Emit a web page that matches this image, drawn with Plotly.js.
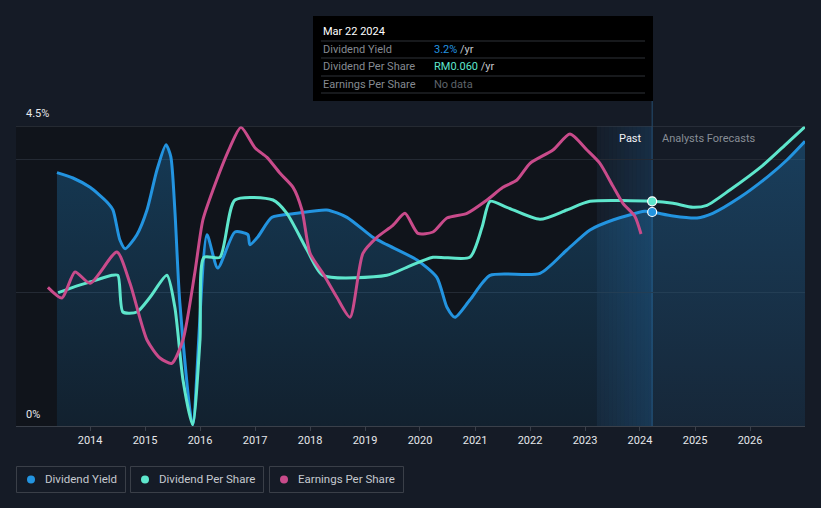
<!DOCTYPE html>
<html>
<head>
<meta charset="utf-8">
<script src="https://cdn.plot.ly/plotly-3.0.1.min.js"></script>
<style>
html,body{margin:0;padding:0;background:#151b26;}
#chart{width:821px;height:508px;}
</style>
</head>
<body>
<div id="chart"></div>
<script>
// ---- Data (values on the chart's shared 0–4.5 scale) ----
const yieldDates = ['2013-05-26','2013-09-09','2014-01-01','2014-04-23','2014-06-02','2014-07-18','2014-08-22','2014-11-08','2015-01-14','2015-03-21','2015-05-20','2015-06-21','2015-07-18','2015-08-20','2015-11-13','2016-02-16','2016-04-28','2016-08-20','2016-11-14','2016-11-27','2017-01-20','2017-04-23','2017-10-05','2018-04-22','2018-09-03','2019-02-22','2019-05-26','2019-12-12','2020-04-22','2020-06-28','2020-08-20','2020-11-27','2021-04-10','2022-03-08','2022-09-02','2023-02-03','2023-07-05','2024-02-01','2024-03-22','2024-08-08','2025-01-14','2025-04-28','2025-10-26','2026-04-23','2026-09-03','2027-01-01'];
const yieldValues = [3.80,3.72,3.58,3.36,3.24,2.79,2.66,2.87,3.24,3.84,4.22,4.04,3.24,1.85,0.02,2.87,2.37,2.91,2.87,2.72,2.84,3.13,3.19,3.24,3.13,2.83,2.72,2.49,2.23,1.78,1.63,1.89,2.26,2.29,2.64,2.94,3.09,3.22,3.21,3.15,3.12,3.19,3.43,3.73,3.99,4.27];

const dpsDates = ['2013-06-03','2013-09-09','2014-01-01','2014-05-26','2014-07-05','2014-08-07','2014-11-08','2015-02-03','2015-05-26','2015-07-18','2015-09-10','2015-11-13','2016-01-01','2016-01-27','2016-05-12','2016-08-20','2017-04-30','2017-07-31','2017-12-12','2018-03-27','2019-05-26','2019-10-05','2020-03-27','2020-11-27','2021-02-16','2021-04-10','2021-07-31','2022-03-08','2022-09-02','2023-02-03','2024-03-22','2024-08-08','2024-12-18','2025-03-21','2025-08-20','2026-03-27','2026-09-03','2027-01-01'];
const dpsValues = [2.00,2.08,2.16,2.26,2.26,1.71,1.71,1.93,2.26,1.78,0.69,0.02,1.29,2.53,2.53,3.39,3.39,3.19,2.64,2.26,2.26,2.38,2.53,2.53,2.98,3.37,3.28,3.10,3.24,3.37,3.37,3.34,3.28,3.31,3.54,3.91,4.24,4.49];

const epsDates = ['2013-03-27','2013-06-28','2013-09-23','2014-01-01','2014-06-28','2014-09-23','2015-01-14','2015-04-10','2015-06-28','2015-09-10','2015-11-27','2016-01-20','2016-03-27','2016-07-18','2016-09-29','2017-01-01','2017-03-21','2017-06-16','2017-09-10','2017-11-08','2018-01-01','2018-03-27','2018-06-28','2018-09-23','2018-12-18','2019-03-21','2019-07-05','2019-09-23','2019-12-18','2020-03-27','2020-06-28','2020-11-08','2021-03-21','2021-07-05','2021-10-06','2022-01-01','2022-06-02','2022-09-23','2023-01-14','2023-04-10','2023-07-05','2023-09-10','2023-11-27','2024-01-08'];
const epsValues = [2.08,1.92,2.31,2.14,2.61,2.14,1.29,1.02,0.94,1.29,2.29,3.09,3.54,4.18,4.48,4.17,4.03,3.79,3.58,3.24,2.59,2.29,1.93,1.63,2.59,2.83,3.01,3.19,2.89,2.91,3.12,3.19,3.39,3.58,3.69,3.94,4.14,4.38,4.14,3.94,3.60,3.34,3.15,2.88];

const tickYears = ['2014','2015','2016','2017','2018','2019','2020','2021','2022','2023','2024','2025','2026'];
const seriesNames = ['Dividend Yield','Dividend Per Share','Earnings Per Share'];
const hoverDate = '2024-03-22';
const pastStart = '2023-03-20';
const xRange = ['2012-08-27','2027-01-01'];
const yLabels = ['0%','4.5%'];

// ---- Styling ----
const BG = '#151b26', DARK = '#10141b', GRID = '#242a34', LINE = '#3a404a';
const C_BLUE = '#2394e0', C_TEAL = '#5ee6cc', C_PINK = '#c94b8b';
const FONT = 'Roboto, "Open Sans", sans-serif';
const SMOOTH = 0.65;

// pixel -> paper helpers for decorations
const L = 16, R = 805, T = 126, B = 426;
const px = x => (x - L) / (R - L);
const py = y => (B - y) / (B - T);

const traces = [
  {x: yieldDates, y: yieldValues, name: seriesNames[0], type: 'scatter', mode: 'lines',
   line: {color: C_BLUE, width: 3, shape: 'spline', smoothing: SMOOTH},
   fill: 'tozeroy', fillcolor: 'rgba(35,148,224,0.18)',
   fillgradient: {type: 'vertical', start: 0, stop: 4.5,
     colorscale: [[0, 'rgba(35,148,224,0.10)'], [1, 'rgba(35,148,224,0.30)']]},
   hoverinfo: 'skip'},
  {x: dpsDates, y: dpsValues, name: seriesNames[1], type: 'scatter', mode: 'lines',
   line: {color: C_TEAL, width: 3, shape: 'spline', smoothing: SMOOTH}, hoverinfo: 'skip'},
  {x: epsDates, y: epsValues, name: seriesNames[2], type: 'scatter', mode: 'lines',
   line: {color: C_PINK, width: 3, shape: 'spline', smoothing: SMOOTH}, hoverinfo: 'skip'},
  {x: [hoverDate], y: [yieldValues[yieldDates.indexOf(hoverDate)]], type: 'scatter', mode: 'markers',
   marker: {color: C_BLUE, size: 9, line: {color: '#ffffff', width: 1.2}}, hoverinfo: 'skip', showlegend: false},
  {x: [hoverDate], y: [dpsValues[dpsDates.indexOf(hoverDate)]], type: 'scatter', mode: 'markers',
   marker: {color: C_TEAL, size: 9, line: {color: '#ffffff', width: 1.2}}, hoverinfo: 'skip', showlegend: false}
];

// ---- Shapes ----
const shapes = [];
// darker past region
shapes.push({type: 'rect', xref: 'x', yref: 'y', x0: xRange[0], x1: pastStart, y0: 0, y1: 4.5,
  fillcolor: DARK, line: {width: 0}, layer: 'below'});
// past band gradient (slices)
const t0 = new Date(pastStart).getTime(), t1 = new Date(hoverDate).getTime();
const N = 14;
for (let i = 0; i < N; i++) {
  const a = t0 + (t1 - t0) * i / N, b = t0 + (t1 - t0) * (i + 1) / N;
  shapes.push({type: 'rect', xref: 'x', yref: 'y', x0: new Date(a).toISOString().slice(0,10),
    x1: new Date(b).toISOString().slice(0,10), y0: 0, y1: 4.5,
    fillcolor: 'rgba(35,130,200,' + (0.02 + 0.17 * (i + 1) / N).toFixed(3) + ')', line: {width: 0}, layer: 'below'});
}
// top 4.5 line
shapes.push({type: 'line', xref: 'paper', yref: 'y', x0: 0, x1: 1, y0: 4.5, y1: 4.5, line: {color: LINE, width: 1}});
// vertical current-date line
shapes.push({type: 'line', xref: 'x', yref: 'paper', x0: hoverDate, x1: hoverDate, y0: 0, y1: py(101),
  line: {color: 'rgba(50,120,175,0.55)', width: 1}, layer: 'below'});
// tooltip box
shapes.push({type: 'rect', xref: 'paper', yref: 'paper', x0: px(313), x1: px(653), y0: py(101), y1: py(16),
  fillcolor: '#000000', line: {width: 0}, layer: 'above'});
[41, 58, 76, 93].forEach(yy => shapes.push({type: 'line', xref: 'paper', yref: 'paper',
  x0: px(321), x1: px(645), y0: py(yy), y1: py(yy), line: {color: '#2f3338', width: 1}, layer: 'above'}));
// legend boxes
const legendBoxes = [[16, 126], [130, 264], [269, 404]];
const legendColors = [C_BLUE, C_TEAL, C_PINK];
legendBoxes.forEach((bx, i) => {
  shapes.push({type: 'rect', xref: 'paper', yref: 'paper', x0: px(bx[0] + 0.5), x1: px(bx[1] - 0.5),
    y0: py(492.5), y1: py(466.5), fillcolor: 'rgba(0,0,0,0)', line: {color: '#3a3f48', width: 1}});
  const cx = bx[0] + 15;
  shapes.push({type: 'circle', xref: 'paper', yref: 'paper', x0: px(cx - 4), x1: px(cx + 4),
    y0: py(483.5), y1: py(475.5), fillcolor: legendColors[i], line: {width: 0}});
});

// ---- Annotations ----
const ann = [];
const txt = (x, y, text, color, size, anchor) => ann.push({xref: 'paper', yref: 'paper', x: px(x), y: py(y),
  text: text, showarrow: false, xanchor: anchor || 'left', yanchor: 'middle',
  font: {family: FONT, size: size, color: color}});
txt(24, 114, yLabels[1], '#e6e8eb', 11);
txt(24, 414, yLabels[0], '#e6e8eb', 11);
txt(644, 138, 'Past', '#f2f3f5', 11, 'right');
txt(660, 138, 'Analysts Forecasts', '#878d95', 11);
// tooltip text
txt(321, 31, 'Mar 22 2024', '#ffffff', 11);
txt(321, 49, 'Dividend Yield', '#858a91', 11);
txt(321, 67, 'Dividend Per Share', '#858a91', 11);
txt(321, 84, 'Earnings Per Share', '#858a91', 11);
txt(432, 49, '<span style="color:' + C_BLUE + '">3.2%</span> /yr', '#c4c7cc', 11);
txt(432, 67, '<span style="color:' + C_TEAL + '">RM0.060</span> /yr', '#c4c7cc', 11);
txt(432, 84, 'No data', '#5f646b', 11);
// legend text
legendBoxes.forEach((bx, i) => txt(bx[0] + 27, 479.5, seriesNames[i], '#c5c9cf', 11.5));

const layout = {
  width: 821, height: 508,
  paper_bgcolor: BG, plot_bgcolor: BG,
  margin: {l: L, r: 821 - R, t: T, b: 508 - B},
  showlegend: false,
  font: {family: FONT, color: '#e6e8eb'},
  xaxis: {type: 'date', range: xRange, tickvals: tickYears.map(y => y + '-01-01'), ticktext: tickYears,
    showgrid: false, zeroline: false, showline: true, linecolor: LINE, linewidth: 1,
    ticks: 'outside', ticklen: 4, tickcolor: LINE, tickfont: {family: FONT, size: 11, color: '#e6e8eb'},
    fixedrange: true},
  yaxis: {range: [0, 4.5], tickvals: [2, 4], showticklabels: false, showgrid: true, gridcolor: GRID,
    gridwidth: 1, zeroline: false, showline: false, ticks: '', fixedrange: true},
  shapes: shapes,
  annotations: ann,
  hovermode: false
};

Plotly.newPlot('chart', traces, layout, {displayModeBar: false, staticPlot: true});
</script>
</body>
</html>
